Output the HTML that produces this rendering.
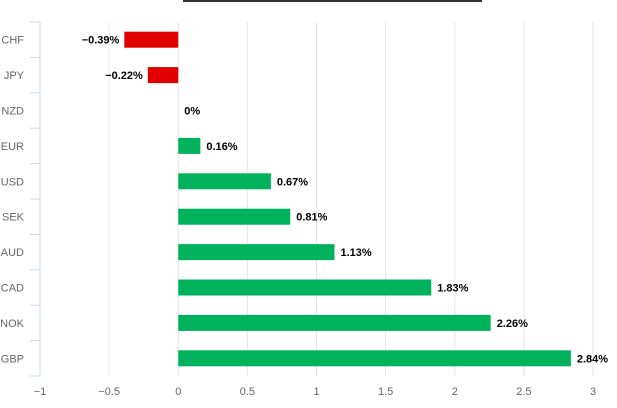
<!DOCTYPE html>
<html><head><meta charset="utf-8"><style>
body{margin:0;background:#fff;font-family:"Liberation Sans",sans-serif}
svg{display:block}
</style></head><body>
<svg id="c" width="617" height="408">
<rect x="183" y="0" width="299" height="2" fill="#333"/>
</svg>
<script>
const categories=["CHF","JPY","NZD","EUR","USD","SEK","AUD","CAD","NOK","GBP"];
const values=[-0.39,-0.22,0,0.16,0.67,0.81,1.13,1.83,2.26,2.84];
const valueLabels=["\u22120.39%","\u22120.22%","0%","0.16%","0.67%","0.81%","1.13%","1.83%","2.26%","2.84%"];
const ticks=[-1,-0.5,0,0.5,1,1.5,2,2.5,3];
const tickLabels=["\u22121","\u22120.5","0","0.5","1","1.5","2","2.5","3"];
const svg=document.getElementById('c');const NS='http://www.w3.org/2000/svg';
const x0=40,x1=593,vmin=-1,vmax=3,plotTop=22,plotBottom=376;
const band=(plotBottom-plotTop)/categories.length;
const X=v=>x0+(v-vmin)/(vmax-vmin)*(x1-x0);
const Y=i=>plotTop+band*i+band/2;
function mk(t,a){const e=document.createElementNS(NS,t);for(const k in a)e.setAttribute(k,a[k]);svg.appendChild(e);return e;}
ticks.forEach((t,i)=>{
 if(i>0){const g=mk('line',{x1:X(t),x2:X(t),y1:plotTop,y2:plotBottom,stroke:'#e6e6e6','stroke-width':1});
 
 }
 const l=mk('text',{x:X(t),y:395,'text-anchor':'middle','font-size':11,fill:'#666'});l.textContent=tickLabels[i];
 
 
});
const ax=mk('line',{x1:x0,x2:x0,y1:plotTop,y2:plotBottom,stroke:'#ccd6eb'});


for(let i=0;i<=categories.length;i++){const tk=mk('line',{x1:30,x2:x0,y1:plotTop+band*i,y2:plotTop+band*i,stroke:'#ccd6eb'});
 
 }
categories.forEach((c,i)=>{
 const l=mk('text',{x:24,y:Y(i)+4,'text-anchor':'end','font-size':11,fill:'#666'});l.textContent=c;
 
 
 const v=values[i];const a=X(Math.min(0,v)),b=X(Math.max(0,v));
 if(v!==0){const r=mk('rect',{x:a,y:Y(i)-8,width:b-a,height:16,fill:v<0?'#e00000':'#00b25c'});
 
 }
 const t=mk('text',{x:v<0?a-5:b+6,y:Y(i)+4,'text-anchor':v<0?'end':'start','font-size':11,'font-weight':'bold',fill:'#000'});t.textContent=valueLabels[i];
 
 
});
</script>
</body></html>
